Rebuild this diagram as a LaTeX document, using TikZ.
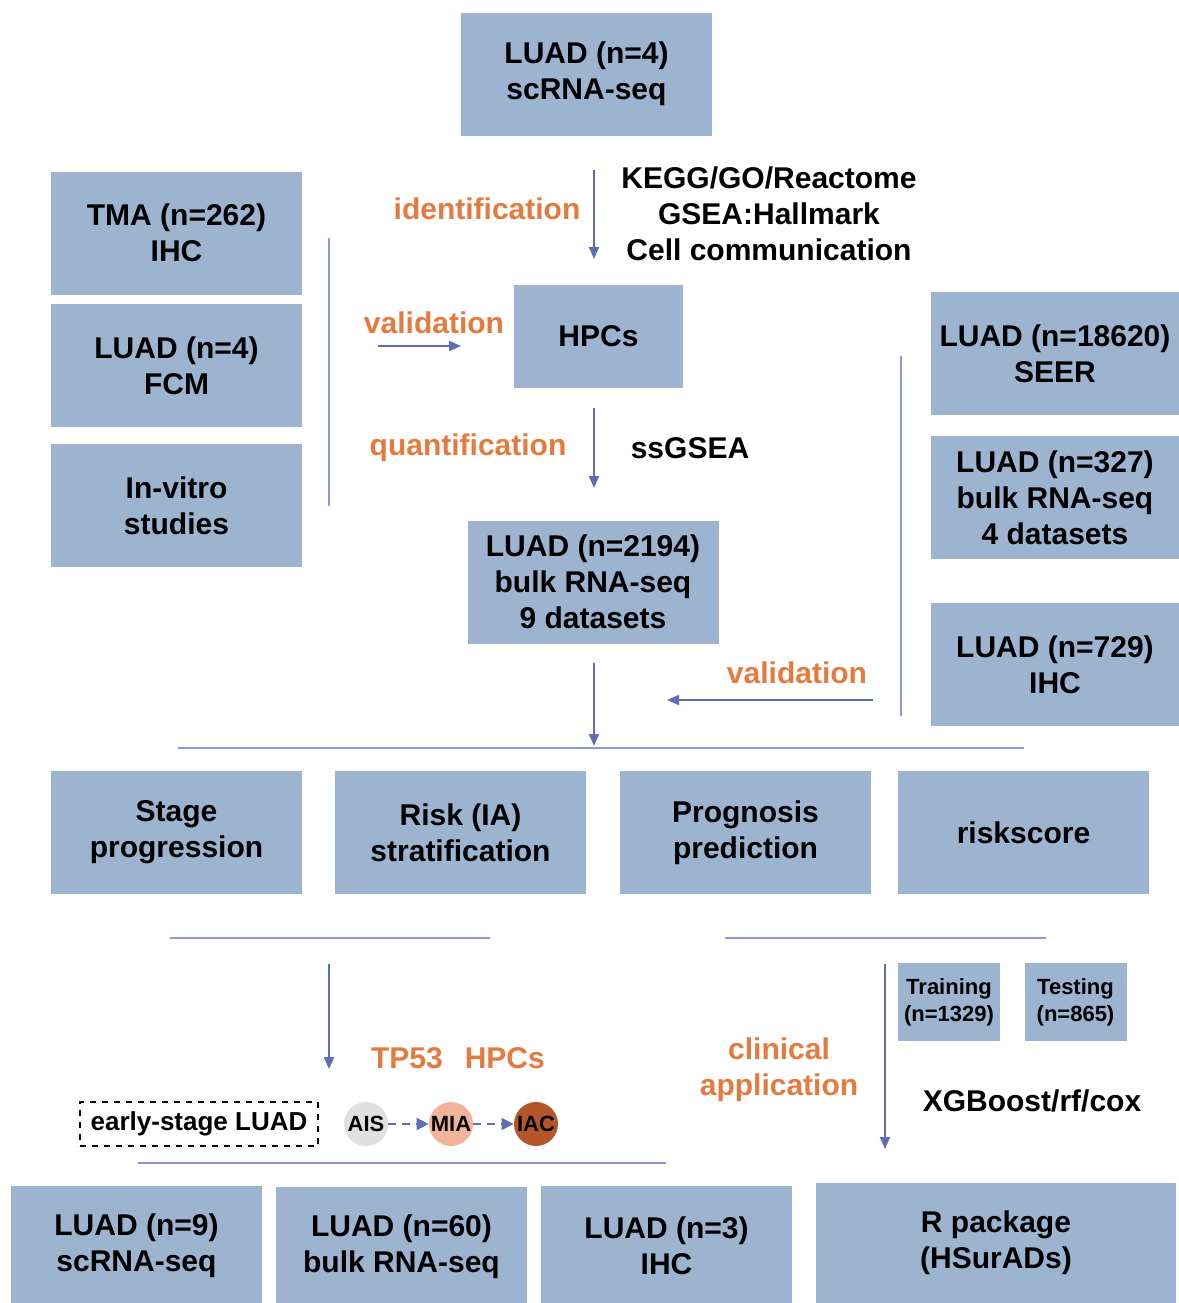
\documentclass[tikz,border=0pt]{standalone}
\usepackage{fontspec}
\setmainfont{Liberation Sans}
\usetikzlibrary{arrows.meta}
\definecolor{boxblue}{RGB}{156,180,208}
\definecolor{arrowblue}{RGB}{95,108,182}
\definecolor{lineblue}{RGB}{142,152,206}
\definecolor{orangetxt}{RGB}{230,122,62}
\definecolor{aisgray}{RGB}{224,224,224}
\definecolor{miapeach}{RGB}{242,180,152}
\definecolor{iacbrown}{RGB}{180,86,42}
\begin{document}
\begin{tikzpicture}[x=0.5pt,y=-0.5pt]
	\tikzstyle{every node}+=[inner sep=0pt, font=\bfseries\fontsize{15}{18}\selectfont]
	\tikzstyle{bigbox}=[fill=boxblue, minimum width=125.5pt, minimum height=61.5pt, align=center]
	\tikzstyle{smallbox}=[fill=boxblue, minimum width=51pt, minimum height=39pt, align=center, font=\bfseries\fontsize{11}{13.5}\selectfont]
	\tikzstyle{orangelbl}=[text=orangetxt, align=center]
	\tikzstyle{flow}=[arrowblue, line width=1pt, -{Triangle[length=6pt,width=5pt]}]
	\tikzstyle{rule}=[lineblue, line width=1pt]
	\tikzstyle{stagedot}=[circle, minimum size=22pt, font=\bfseries\fontsize{11}{12}\selectfont]
	\tikzstyle{stageflow}=[arrowblue, line width=1pt, dash pattern=on 4pt off 3pt, -{Triangle[length=6pt,width=6pt]}]
	\useasboundingbox (0,0) rectangle (1179,1303);
	% top
	\node [bigbox] (sc4) at (586.5,74) {LUAD (n=4)\\scRNA-seq};
	\node [bigbox, minimum width=84.5pt, minimum height=51.5pt] (hpcs) at (598.5,336.5) {HPCs};
	\node [bigbox] (bulk2194) at (593,582) {LUAD (n=2194)\\bulk RNA-seq\\9 datasets};
	% left column
	\node [bigbox] (tma) at (176.5,233) {TMA (n=262)\\IHC};
	\node [bigbox] (fcm) at (176.5,365.5) {LUAD (n=4)\\FCM};
	\node [bigbox] (vitro) at (176.5,505.5) {In-vitro\\studies};
	% right column
	\node [bigbox, minimum width=124pt] (seer) at (1055,353.5) {LUAD (n=18620)\\SEER};
	\node [bigbox, minimum width=124pt] (bulk327) at (1055,497.5) {LUAD (n=327)\\bulk RNA-seq\\4 datasets};
	\node [bigbox, minimum width=124pt] (ihc729) at (1055,664.5) {LUAD (n=729)\\IHC};
	% middle row
	\node [bigbox] (stage) at (176.5,832.5) {Stage\\progression};
	\node [bigbox] (risk) at (460.5,832.5) {Risk (IA)\\stratification};
	\node [bigbox] (prog) at (745.5,832.5) {Prognosis\\prediction};
	\node [bigbox] (rscore) at (1023.5,832.5) {riskscore};
	\node [smallbox] (train) at (949,1002) {Training\\(n=1329)};
	\node [smallbox] (test) at (1075.5,1002) {Testing\\(n=865)};
	% bottom row
	\node [bigbox, minimum height=60pt] (sc9) at (136.5,1246) {LUAD (n=9)\\scRNA-seq};
	\node [bigbox, minimum height=60pt] (bulk60) at (401.5,1247) {LUAD (n=60)\\bulk RNA-seq};
	\node [bigbox, minimum height=60pt] (ihc3) at (666.5,1246) {LUAD (n=3)\\IHC};
	\node [bigbox, minimum width=180pt, minimum height=60pt] (rpkg) at (996,1243) {R package\\(HSurADs)};
	% labels
	\node [orangelbl] (ident) at (487,209) {identification};
	\node [align=center] (enrich) at (769,214) {KEGG/GO/Reactome\\GSEA:Hallmark\\Cell communication};
	\node [orangelbl] (valleft) at (434,323) {validation};
	\node [orangelbl] (quant) at (468,448) {quantification};
	\node (ssgsea) at (690,448) {ssGSEA};
	\node [orangelbl] (valright) at (797,673) {validation};
	\node [orangelbl] (tp53) at (458,1058) {TP53\hspace{11pt}HPCs};
	\node [orangelbl] (clinic) at (779,1070) {clinical\\application};
	\node (xgb) at (1032,1101) {XGBoost/rf/cox};
	\node [draw, dashed, line width=0.8pt, minimum width=119pt, minimum height=22pt, font=\bfseries\fontsize{13}{15}\selectfont] (early) at (199,1124) {early-stage LUAD};
	\node [stagedot, fill=aisgray] (ais) at (366,1124) {AIS};
	\node [stagedot, fill=miapeach] (mia) at (451,1124) {MIA};
	\node [stagedot, fill=iacbrown] (iac) at (536,1124) {IAC};
	% arrows
	\coordinate (a1) at (594,170);
	\coordinate (a2) at (594,259);
	\coordinate (v1) at (378,346);
	\coordinate (v2) at (461,346);
	\coordinate (q1) at (594,408);
	\coordinate (q2) at (594,488);
	\coordinate (m1) at (594,663);
	\coordinate (m2) at (594,746);
	\coordinate (r1) at (873,700);
	\coordinate (r2) at (667,700);
	\coordinate (s1) at (329,964);
	\coordinate (s2) at (329,1069);
	\coordinate (c1) at (885,964);
	\coordinate (c2) at (885,1149);
	\draw [flow] (a1) -- (a2);
	\draw [flow] (v1) -- (v2);
	\draw [flow] (q1) -- (q2);
	\draw [flow] (m1) -- (m2);
	\draw [flow] (r1) -- (r2);
	\draw [flow] (s1) -- (s2);
	\draw [flow] (c1) -- (c2);
	\draw [stageflow] (ais) -- (mia);
	\draw [stageflow] (mia) -- (iac);
	% rules
	\draw [rule] (329,238) -- (329,506);
	\draw [rule] (901,356) -- (901,716);
	\draw [rule] (178,748) -- (1024,748);
	\draw [rule] (170,938) -- (490,938);
	\draw [rule] (725,938) -- (1046,938);
	\draw [rule] (138,1163) -- (666,1163);
\end{tikzpicture}
\end{document}
